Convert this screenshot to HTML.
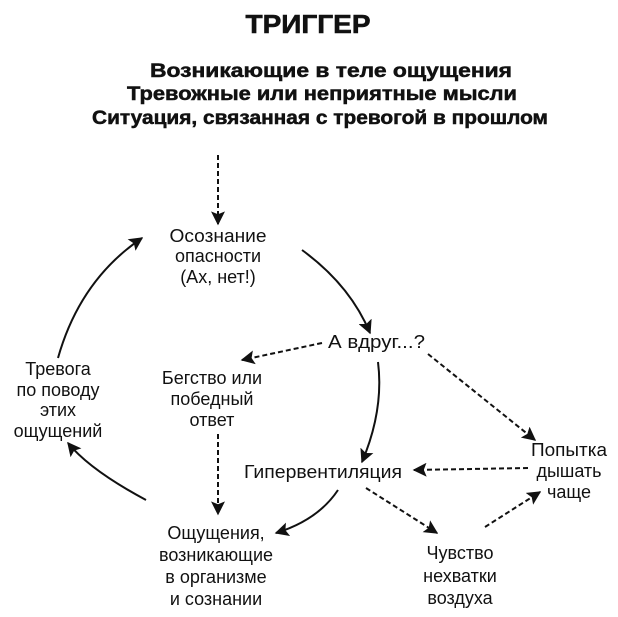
<!DOCTYPE html>
<html><head><meta charset="utf-8"><style>
html,body{margin:0;padding:0;background:#fff}
svg{display:block}
text{font-family:"Liberation Sans",sans-serif;fill:#111}
.t{font-size:18px}
.b{font-weight:bold;font-size:19px;stroke:#111;stroke-width:0.5}
</style></head><body>
<svg width="618" height="617" viewBox="0 0 618 617" xmlns="http://www.w3.org/2000/svg">
<defs>
<marker id="a" viewBox="0 0 10 10" refX="9" refY="5" markerWidth="7" markerHeight="7" orient="auto" markerUnits="strokeWidth">
<path d="M0,0 L10,5 L0,10 L2,5 z" fill="#111"/></marker>
</defs>
<text x="308" y="33" text-anchor="middle" font-weight="bold" font-size="26" stroke="#111" stroke-width="0.6" textLength="125" lengthAdjust="spacingAndGlyphs">ТРИГГЕР</text>
<text class="b" x="331" y="77" text-anchor="middle" textLength="362" lengthAdjust="spacingAndGlyphs">Возникающие  в  теле  ощущения</text>
<text class="b" x="322" y="100" text-anchor="middle" textLength="390" lengthAdjust="spacingAndGlyphs">Тревожные  или  неприятные  мысли</text>
<text class="b" x="320" y="124" text-anchor="middle" textLength="456" lengthAdjust="spacingAndGlyphs">Ситуация,  связанная  с  тревогой  в  прошлом</text>

<g fill="none" stroke="#111" stroke-width="2">
<line x1="218" y1="155" x2="218" y2="224" stroke-dasharray="5,3" marker-end="url(#a)"/>
<path d="M302,250 Q350,285 370,333" marker-end="url(#a)"/>
<line x1="322" y1="343" x2="242" y2="360" stroke-dasharray="5,3" marker-end="url(#a)"/>
<path d="M378,362 Q384,410 362,462" marker-end="url(#a)"/>
<line x1="428" y1="354" x2="535" y2="440" stroke-dasharray="5,3" marker-end="url(#a)"/>
<line x1="528" y1="468" x2="414" y2="470" stroke-dasharray="5,3" marker-end="url(#a)"/>
<line x1="218" y1="434" x2="218" y2="514" stroke-dasharray="5,3" marker-end="url(#a)"/>
<path d="M338,490 Q318,520 276,533" marker-end="url(#a)"/>
<line x1="366" y1="488" x2="437" y2="533" stroke-dasharray="5,3" marker-end="url(#a)"/>
<line x1="485" y1="527" x2="540" y2="492" stroke-dasharray="5,3" marker-end="url(#a)"/>
<path d="M146,500 Q90,470 68,443" marker-end="url(#a)"/>
<path d="M58,358 Q80,280 142,238" marker-end="url(#a)"/>
</g>

<g class="t" text-anchor="middle">
<text x="218" y="242" textLength="97" lengthAdjust="spacingAndGlyphs">Осознание</text>
<text x="218" y="262">опасности</text>
<text x="218" y="283">(Ах, нет!)</text>
<text x="58" y="375">Тревога</text>
<text x="58" y="396">по поводу</text>
<text x="58" y="416">этих</text>
<text x="58" y="437">ощущений</text>
<text x="212" y="384">Бегство или</text>
<text x="212" y="405">победный</text>
<text x="212" y="426">ответ</text>
<text x="569" y="456" textLength="76" lengthAdjust="spacingAndGlyphs">Попытка</text>
<text x="569" y="477">дышать</text>
<text x="569" y="498">чаще</text>
<text x="216" y="539">Ощущения,</text>
<text x="216" y="561">возникающие</text>
<text x="216" y="583">в организме</text>
<text x="216" y="605">и сознании</text>
<text x="460" y="559">Чувство</text>
<text x="460" y="582">нехватки</text>
<text x="460" y="604">воздуха</text>
</g>
<text class="t" x="328" y="348" textLength="97" lengthAdjust="spacingAndGlyphs">А вдруг...?</text>
<text class="t" x="244" y="478" textLength="158" lengthAdjust="spacingAndGlyphs">Гипервентиляция</text>
</svg>
</body></html>
